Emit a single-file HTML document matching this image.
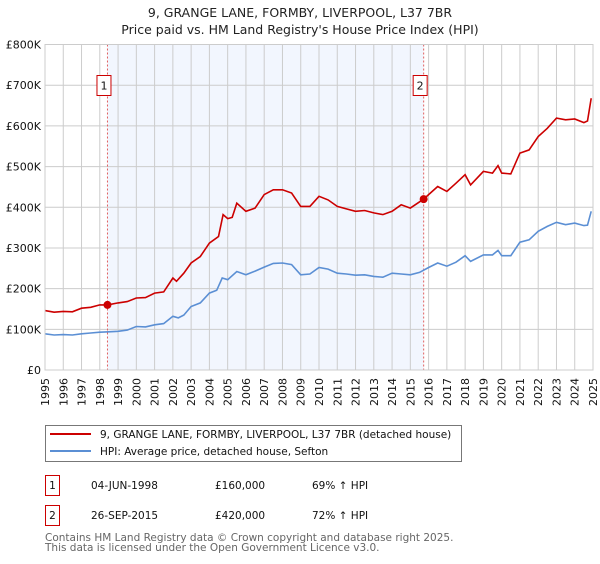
<!DOCTYPE html>
<html><head><meta charset="utf-8"><style>
body{margin:0;background:#fff;width:600px;height:560px;overflow:hidden;font-family:"DejaVu Sans","Liberation Sans",sans-serif;}
svg text{font-family:"DejaVu Sans","Liberation Sans",sans-serif;}
</style></head><body>
<svg id="c" width="600" height="560" xmlns="http://www.w3.org/2000/svg">
<text x="300" y="17" text-anchor="middle" font-size="12.5" fill="#222">9, GRANGE LANE, FORMBY, LIVERPOOL, L37 7BR</text>
<text x="300" y="34" text-anchor="middle" font-size="12.5" fill="#222">Price paid vs. HM Land Registry's House Price Index (HPI)</text>
<g id="plot"></g>
<g>
<rect x="45.5" y="425.5" width="416" height="36" fill="#fff" stroke="#777"/>
<line x1="50" y1="434" x2="91" y2="434" stroke="#cc0000" stroke-width="2"/>
<text x="100" y="438" font-size="10.5" fill="#111">9, GRANGE LANE, FORMBY, LIVERPOOL, L37 7BR (detached house)</text>
<line x1="50" y1="451" x2="91" y2="451" stroke="#5b8fd4" stroke-width="2"/>
<text x="100" y="455" font-size="10.5" fill="#111">HPI: Average price, detached house, Sefton</text>
</g>
<g font-size="10.5" fill="#111">
<rect x="45.5" y="475.5" width="14" height="20" fill="#fff" stroke="#cc0000"/>
<text x="52.5" y="489" text-anchor="middle">1</text>
<text x="91" y="489">04-JUN-1998</text><text x="215" y="489">£160,000</text><text x="312" y="489">69% ↑ HPI</text>
<rect x="45.5" y="505.5" width="14" height="20" fill="#fff" stroke="#cc0000"/>
<text x="52.5" y="519" text-anchor="middle">2</text>
<text x="91" y="519">26-SEP-2015</text><text x="215" y="519">£420,000</text><text x="312" y="519">72% ↑ HPI</text>
</g>
<text x="45" y="541" font-size="10.5" fill="#666">Contains HM Land Registry data © Crown copyright and database right 2025.</text>
<text x="45" y="551" font-size="10.5" fill="#666">This data is licensed under the Open Government Licence v3.0.</text>
</svg>
<script>
const hpiDates=[1995,1995.5,1996,1996.5,1997,1997.5,1998,1998.5,1999,1999.5,2000,2000.5,2001,2001.5,2002,2002.3,2002.6,2003,2003.5,2004,2004.4,2004.7,2005,2005.5,2006,2006.5,2007,2007.5,2008,2008.5,2009,2009.5,2010,2010.5,2011,2011.5,2012,2012.5,2013,2013.5,2014,2014.5,2015,2015.5,2016,2016.5,2017,2017.5,2018,2018.3,2019,2019.5,2019.8,2020,2020.5,2021,2021.5,2022,2022.5,2023,2023.5,2024,2024.5,2024.7,2024.9];
const hpiValues=[89,86,87,86,89,91,93,94,95,98,107,106,111,114,132,128,135,156,165,189,196,226,222,242,234,243,253,262,263,259,234,236,252,248,238,236,233,234,230,228,238,236,234,240,252,263,255,265,281,267,283,283,294,281,281,314,320,341,353,363,357,361,355,356,390];
const ppDates=[1995,1995.5,1996,1996.5,1997,1997.5,1998,1998.42,1999,1999.5,2000,2000.5,2001,2001.5,2002,2002.2,2002.6,2003,2003.5,2004,2004.5,2004.75,2005,2005.25,2005.5,2006,2006.5,2007,2007.5,2008,2008.5,2009,2009.5,2010,2010.5,2011,2011.5,2012,2012.5,2013,2013.5,2014,2014.5,2015,2015.73,2016,2016.5,2017,2017.5,2018,2018.3,2019,2019.5,2019.8,2020,2020.5,2021,2021.5,2022,2022.5,2023,2023.5,2024,2024.5,2024.7,2024.9];
const ppValues=[146,142,144,143,152,154,160,160,165,168,177,178,189,192,226,218,238,263,279,312,328,382,372,375,410,390,398,431,443,443,435,402,402,427,418,402,396,390,392,386,382,390,406,398,420,431,451,439,459,480,455,488,484,502,484,482,533,541,574,594,619,615,617,608,612,668];
const sales=[[1998.42,160,"1"],[2015.73,420,"2"]];
const yTicks=[0,100,200,300,400,500,600,700,800];
const yTickLabels=["£0","£100K","£200K","£300K","£400K","£500K","£600K","£700K","£800K"];
const xYears=[1995,1996,1997,1998,1999,2000,2001,2002,2003,2004,2005,2006,2007,2008,2009,2010,2011,2012,2013,2014,2015,2016,2017,2018,2019,2020,2021,2022,2023,2024,2025];
const X0=45,X1=593,Y0=370,Y1=44.5;
const xs=t=>X0+(t-1995)/30*(X1-X0);
const ys=v=>Y0-v/800*(Y0-Y1);
const NS="http://www.w3.org/2000/svg";
const g=document.getElementById('plot');
function mk(tag,a){const e=document.createElementNS(NS,tag);for(const k in a)e.setAttribute(k,a[k]);g.appendChild(e);return e;}
let e=mk('rect',{x:xs(sales[0][0]),y:Y1,width:xs(sales[1][0])-xs(sales[0][0]),height:Y0-Y1,fill:'#f2f6fe'});


xYears.forEach(yr=>{
 const l=mk('line',{x1:xs(yr),x2:xs(yr),y1:Y1,y2:Y0,stroke:'#ccc','stroke-width':1});
 
 
 const t=mk('text',{transform:`translate(${xs(yr)+4},${Y0+8}) rotate(-90)`,'text-anchor':'end','font-size':'11',fill:'#111'});
 t.textContent=yr;
 
 
});
yTicks.forEach((v,i)=>{
 const l=mk('line',{x1:X0,x2:X1,y1:ys(v),y2:ys(v),stroke:'#ccc','stroke-width':1});
 
 
 const t=mk('text',{x:X0-4,y:ys(v)+4,'text-anchor':'end','font-size':'11',fill:'#111'});
 t.textContent=yTickLabels[i];
 
 
});
sales.forEach(s=>{
 const l=mk('line',{x1:xs(s[0]),x2:xs(s[0]),y1:Y1,y2:Y0,stroke:'#e06060','stroke-width':1,'stroke-dasharray':'2,2'});
 
 
 const r=mk('rect',{x:xs(s[0])-10.5,y:75.5,width:14,height:20,fill:'#fff',stroke:'#cc0000'});
 
 
 const t=mk('text',{x:xs(s[0])-3.5,y:89.5,'text-anchor':'middle','font-size':'11',fill:'#111'});
 t.textContent=s[2];
 
 
});
const pts=(d,v)=>d.map((t,i)=>xs(t).toFixed(1)+','+ys(v[i]).toFixed(1)).join(' ');
e=mk('polyline',{points:pts(hpiDates,hpiValues),fill:'none',stroke:'#5b8fd4','stroke-width':1.6});


e=mk('polyline',{points:pts(ppDates,ppValues),fill:'none',stroke:'#cc0000','stroke-width':1.6});


sales.forEach(s=>{
 const c=mk('circle',{cx:xs(s[0]),cy:ys(s[1]),r:4,fill:'#cc0000'});
 
 
});
e=mk('rect',{x:X0,y:Y1,width:X1-X0,height:Y0-Y1,fill:'none',stroke:'#ccc'});


</script>
</body></html>
